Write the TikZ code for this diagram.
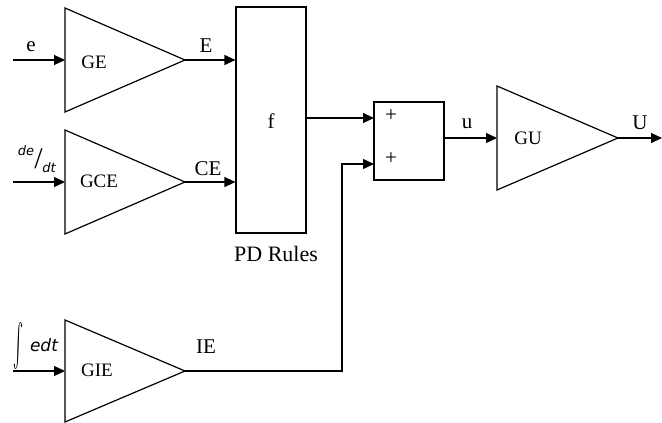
\documentclass[tikz,border=0pt]{standalone}
\usepackage{graphicx}
\usepackage{fontspec}
\setmainfont{Liberation Serif}
\newfontfamily\slabfont{DejaVu Sans}
\usetikzlibrary{arrows.meta,positioning}
\tikzset{
    sigarrow/.style={
        line width=1.2pt,
        black,
        -{Triangle[length=11pt,width=10pt]}
    },
    % 放大器三角形
    gainshape/.style={
        line width=1.2pt,
        black,
        line join=miter
    },
    blockbox/.style={
        draw,
        rectangle,
        line width=1.2pt,
        inner sep=0pt
    },
    lab/.style={
        inner sep=0pt,
        font=\fontsize{21}{21}\selectfont
    },
    gainlab/.style={
        inner sep=0pt,
        font=\fontsize{19}{19}\selectfont
    },
    slab/.style={
        inner sep=0pt,
        font=\slabfont\itshape\fontsize{13}{13}\selectfont
    }
}

\begin{document}
\begin{tikzpicture}[x=1pt,y=-1pt]
    \useasboundingbox (0,0) rectangle (662,423);

    \path
    (13,60) coordinate (ein)
    (65,60) coordinate (ge)
    (185,60) coordinate (getip)
    (13,182) coordinate (cein)
    (65,182) coordinate (gce)
    (185,182) coordinate (gcetip)
    (13,371) coordinate (iein)
    (65,371) coordinate (gie)
    (185,371) coordinate (gietip)
    (342,371) coordinate (bend)
    (374,118) coordinate (s1)
    (374,164) coordinate (s2)
    (497,138) coordinate (gu)
    (618,138) coordinate (gutip)
    (662,138) coordinate (uout)
    ;

    % 三个放大器 + GU
    \draw[gainshape] (65,8) -- (getip) -- (65,112) -- cycle;
    \draw[gainshape] (65,130) -- (gcetip) -- (65,234) -- cycle;
    \draw[gainshape] (65,320) -- (gietip) -- (65,422) -- cycle;
    \draw[gainshape] (497,86) -- (gutip) -- (497,190) -- cycle;

    % 方框
    \node[blockbox, minimum width=70pt, minimum height=226pt] (f) at (271,120) {};
    \node[blockbox, minimum width=70pt, minimum height=78pt] (sum) at (409,141) {};

    % 连线
    \draw[sigarrow] (ein) -- (ge);
    \draw[sigarrow] (cein) -- (gce);
    \draw[sigarrow] (iein) -- (gie);
    \draw[sigarrow] (getip) -- (f.west |- getip);
    \draw[sigarrow] (gcetip) -- (f.west |- gcetip);
    \draw[sigarrow] (f.east |- s1) -- (s1);
    \draw[sigarrow] (gietip) -- (bend) |- (s2);
    \draw[sigarrow] (sum.east |- gu) -- (gu);
    \draw[sigarrow] (gutip) -- (uout);

    % 文本标注
    \node[lab] (le) at (31,47) {e};
    \node[slab] (lde) at (26,151) {de};
    \node[inner sep=0pt, font=\fontsize{30}{30}\selectfont] (lslash) at (38.5,159) {/};
    \node[slab] (ldt) at (49,168) {dt};
    \node[inner sep=0pt] (lint) at (19,345.5) {\resizebox{10pt}{34pt}{$\int$}};
    \node[inner sep=0pt, font=\slabfont\itshape\fontsize{17}{17}\selectfont] (ledt) at (44,345) {edt};
    \node[gainlab] (lge) at (94,62) {GE};
    \node[gainlab] (lgce) at (99,181) {GCE};
    \node[gainlab] (lgie) at (97,370) {GIE};
    \node[lab] (lE) at (206,46) {E};
    \node[lab] (lCE) at (208,169) {CE};
    \node[lab] (lIE) at (206,347) {IE};
    \node[lab] (lf) at (271,121) {f};
    \node[lab, font=\fontsize{22}{22}\selectfont] (lpd) at (276,254) {PD Rules};
    \node[lab] (lp1) at (391,116) {+};
    \node[lab] (lp2) at (391,159) {+};
    \node[lab] (lu) at (467,124) {u};
    \node[gainlab] (lgu) at (528,138) {GU};
    \node[lab] (lU) at (640,123) {U};
\end{tikzpicture}
\end{document}
